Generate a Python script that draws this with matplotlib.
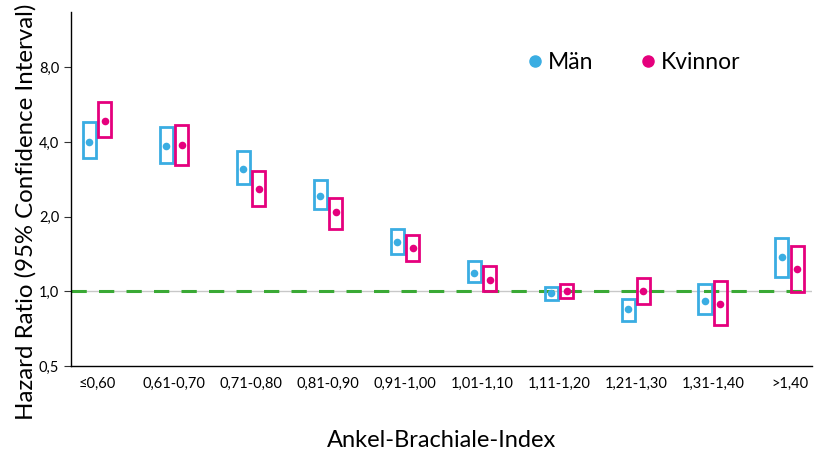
import numpy as np
import matplotlib
matplotlib.use("Agg")
import matplotlib.pyplot as plt
from matplotlib.lines import Line2D
from matplotlib.ticker import FixedLocator, NullLocator

# ── Data ─────────────────────────────────────────────────────────
categories = ["≤0,60", "0,61-0,70", "0,71-0,80", "0,81-0,90", "0,91-1,00",
              "1,01-1,10", "1,11-1,20", "1,21-1,30", "1,31-1,40", ">1,40"]

men_hr    = [4.01, 3.85, 3.11, 2.42, 1.58, 1.19, 0.98, 0.85, 0.91, 1.37]
men_lo    = [3.44, 3.29, 2.71, 2.15, 1.42, 1.09, 0.92, 0.76, 0.81, 1.14]
men_hi    = [4.81, 4.59, 3.68, 2.81, 1.79, 1.33, 1.04, 0.93, 1.07, 1.64]

women_hr  = [4.86, 3.90, 2.58, 2.08, 1.50, 1.11, 1.00, 1.00, 0.89, 1.23]
women_lo  = [4.19, 3.24, 2.21, 1.79, 1.33, 1.00, 0.94, 0.89, 0.73, 0.99]
women_hi  = [5.79, 4.68, 3.05, 2.38, 1.69, 1.26, 1.07, 1.13, 1.10, 1.52]

y_ticks   = [0.5, 1.0, 2.0, 4.0, 8.0]
y_labels  = ["0,5", "1,0", "2,0", "4,0", "8,0"]

BLUE  = "#3aade2"
PINK  = "#e5007d"
GREEN = "#3aa935"

plt.rcParams["font.family"] = ["Lato", "DejaVu Sans"]

fig = plt.figure(figsize=(8.14, 4.5), dpi=100)
ax = fig.add_axes([0.0872, 0.1867, 0.9103, 0.7866])

x = np.arange(len(categories))
off, w = 0.1, 0.17

# reference line at HR = 1
ax.axhline(1.0, color="#c8c8c8", lw=1.0, zorder=1)
ax.axhline(1.0, color=GREEN, lw=2.2, ls=(0, (5, 4)), zorder=2)

# confidence boxes
for xs, lo, hi, c in [(x - off, men_lo, men_hi, BLUE),
                      (x + off, women_lo, women_hi, PINK)]:
    lo = np.array(lo); hi = np.array(hi)
    ax.bar(xs, hi - lo, bottom=lo, width=w, fill=False,
           edgecolor=c, linewidth=2.0, zorder=3)

ax.scatter(x - off, men_hr, s=30, color=BLUE, zorder=4, linewidths=0)
ax.scatter(x + off, women_hr, s=30, color=PINK, zorder=4, linewidths=0)

ax.set_yscale("log")
ax.set_ylim(0.5, 13.35)
ax.set_xlim(-0.34, 9.29)
ax.yaxis.set_major_locator(FixedLocator(y_ticks))
ax.yaxis.set_minor_locator(NullLocator())
ax.set_yticklabels(y_labels)
ax.set_xticks(x)
ax.set_xticklabels(categories)
ax.tick_params(axis="x", length=0, pad=8, labelsize=10.5)
ax.tick_params(axis="y", length=5, width=0.8, labelsize=10.5, color="#333333")

for s in ["top", "right"]:
    ax.spines[s].set_visible(False)
for s in ["left", "bottom"]:
    ax.spines[s].set_linewidth(1.0)

ax.set_xlabel("Ankel-Brachiale-Index", fontsize=17, labelpad=28)
ax.set_ylabel("Hazard Ratio (95% Confidence Interval)", fontsize=17.3)
ax.yaxis.set_label_coords(-0.046, 0.436)

handles = [Line2D([], [], marker="o", ls="", color=BLUE, markersize=8, label="Män"),
           Line2D([], [], marker="o", ls="", color=PINK, markersize=8, label="Kvinnor")]
ax.legend(handles=handles, loc="center left", bbox_to_anchor=(0.618, 0.862),
          bbox_transform=fig.transFigure, ncol=2, frameon=False, fontsize=16.5,
          handletextpad=0.05, columnspacing=1.9, handlelength=1.0)

fig.savefig("out.png", dpi=100)
